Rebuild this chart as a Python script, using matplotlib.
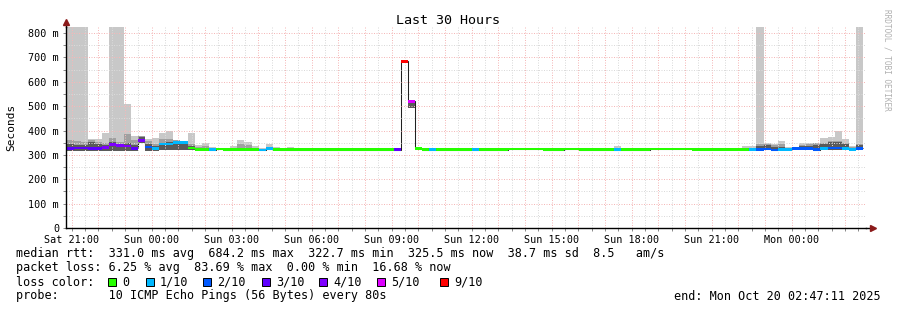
import numpy as np
import matplotlib.pyplot as plt
from matplotlib.patches import Rectangle
from matplotlib.ticker import MultipleLocator, FuncFormatter

plt.rcParams['font.family'] = ['DejaVu Sans Mono']

# time axis: hours counted from Sat 00:00, one bin = 16 minutes
t_start = 20.5458
step = 16 / 60
x_min, x_max = 20.786, 50.786   # Sat 20:47:11 .. Mon 02:47:11

# median rtt per bin (ms)
med = [327, 326, 329, 329, 327, 327, 331, 343, 338, 336,
       327, 359, 332, 326, 344, 344, 351, 351, 328, 323,
       323, 322, 324, 322, 323, 323, 323, 323, 321, 326,
       323, 322, 322, 322, 322, 322, 322, 322, 322, 322,
       322, 322, 322, 322, 322, 322, 322, 322, 684, 520,
       327, 322, 322, 322, 322, 322, 322, 322, 322, 322,
       322, 322, 322, 325, 325, 325, 325, 325, 322, 322,
       322, 325, 325, 322, 322, 322, 322, 322, 322, 322,
       322, 322, 322, 325, 325, 325, 325, 325, 325, 323,
       323, 323, 323, 323, 323, 323, 323, 323, 323, 324,
       321, 323, 323, 327, 327, 327, 322, 327, 329, 329,
       327, 323, 327]

# loss class per bin (lost pings out of 10)
loss = [3, 3, 3, 3, 3, 3, 4, 4, 4, 4,
        3, 4, 2, 1, 1, 1, 1, 1, 0, 0,
        0, 1, 0, 0, 0, 0, 0, 0, 1, 1,
        0, 0, 0, 0, 0, 0, 0, 0, 0, 0,
        0, 0, 0, 0, 0, 0, 0, 3, 9, 5,
        0, 0, 1, 0, 0, 0, 0, 0, 1, 0,
        0, 0, 0, 0, 0, 0, 0, 0, 0, 0,
        0, 0, 0, 0, 0, 0, 0, 0, 1, 0,
        0, 0, 0, 0, 0, 0, 0, 0, 0, 0,
        0, 0, 0, 0, 0, 0, 0, 1, 2, 2,
        2, 1, 1, 2, 2, 2, 2, 1, 2, 2,
        1, 1, 2]

# smoke: outer (light), middle and inner (dark) ping ranges
hi = [1000, 1000, 1000, 1000, 366, 366, 391, 1000, 1000, 509,
      378, 378, 364, 368, 388, 398, 362, 358, 388, 342,
      347, 331, 330, 328, 336, 361, 353, 336, 328, 345,
      331, 328, 331, 328, 327, 327, 325, 328, 324, 324,
      324, 324, 324, 324, 324, 324, 324, 324, 690, 525,
      328, 324, 324, 324, 324, 324, 324, 328, 324, 328,
      328, 324, 328, 327, 327, 327, 327, 327, 328, 328,
      324, 327, 327, 324, 328, 324, 324, 328, 338, 324,
      324, 324, 328, 327, 327, 329, 327, 327, 327, 324,
      329, 328, 324, 328, 324, 324, 338, 336, 1000, 347,
      343, 358, 334, 334, 347, 350, 350, 368, 375, 399,
      364, 336, 1000]

mid = [360, 362, 358, 355, 360, 354, 350, 368, 352, 386,
       360, 376, 358, 345, 364, 364, 360, 356, 345, 334,
       338, 325, 326, 325, 328, 345, 340, 328, 325, 330,
       326, 325, 325, 325, 325, 325, 325, 325, 325, 325,
       325, 325, 325, 325, 325, 325, 325, 325, 688, 525,
       327, 325, 325, 325, 325, 325, 325, 325, 325, 325,
       325, 325, 325, 327, 327, 327, 327, 327, 325, 325,
       325, 327, 327, 325, 325, 325, 325, 325, 330, 325,
       325, 325, 325, 327, 327, 327, 327, 327, 327, 325,
       325, 325, 325, 325, 325, 325, 330, 330, 345, 345,
       340, 345, 330, 334, 340, 345, 347, 350, 358, 358,
       350, 334, 345]

dark = [345, 345, 342, 342, 354, 345, 342, 355, 345, 350,
        340, 374, 345, 335, 350, 352, 356, 353, 335, 323,
        323, 322, 323, 322, 323, 323, 323, 323, 321, 325,
        323, 322, 322, 322, 322, 322, 322, 322, 322, 322,
        322, 322, 322, 322, 322, 322, 322, 322, 688, 525,
        325, 322, 322, 322, 322, 322, 322, 322, 322, 322,
        322, 322, 322, 324, 324, 324, 324, 324, 322, 322,
        322, 324, 324, 322, 322, 322, 322, 322, 322, 322,
        322, 322, 322, 324, 324, 324, 324, 324, 324, 322,
        322, 322, 322, 322, 322, 322, 323, 323, 338, 340,
        334, 334, 328, 332, 336, 338, 340, 343, 351, 354,
        343, 330, 340]

lo = [318, 318, 318, 318, 318, 318, 318, 318, 318, 318,
      318, 350, 318, 318, 320, 320, 320, 320, 320, 320,
      320, 320, 320, 320, 320, 320, 320, 320, 320, 320,
      320, 320, 320, 320, 320, 320, 320, 320, 320, 320,
      320, 320, 320, 320, 320, 320, 320, 320, 680, 491,
      320, 320, 320, 320, 320, 320, 320, 320, 320, 320,
      320, 320, 320, 321, 321, 321, 321, 321, 320, 320,
      320, 321, 321, 320, 320, 320, 320, 320, 320, 320,
      320, 320, 320, 321, 321, 321, 321, 321, 321, 320,
      320, 320, 320, 320, 320, 320, 320, 320, 320, 320,
      320, 320, 320, 320, 320, 320, 320, 320, 320, 320,
      320, 320, 320]

loss_colors = {0: '#26ff00', 1: '#00b8ff', 2: '#0059ff', 3: '#5e00ff',
               4: '#7e00ff', 5: '#dd00ff', 9: '#ff0000'}
legend_classes = [0, 1, 2, 3, 4, 5, 9]
legend_names = ['0', '1/10', '2/10', '3/10', '4/10', '5/10', '9/10']

tick_hours = [21, 24, 27, 30, 33, 36, 39, 42, 45, 48]
tick_labels = ['Sat 21:00', 'Sun 00:00', 'Sun 03:00', 'Sun 06:00', 'Sun 09:00',
               'Sun 12:00', 'Sun 15:00', 'Sun 18:00', 'Sun 21:00', 'Mon 00:00']

W, H = 897, 310
fig = plt.figure(figsize=(W / 100, H / 100), dpi=100)
fig.patch.set_facecolor('white')
ax = fig.add_axes([66 / W, 1 - 228 / H, 800 / W, 201 / H])

med = np.array(med)
lo = np.array(lo)
t = t_start + step * np.arange(len(med))
edges = np.append(t, t[-1] + step)

# median line (under the smoke, only the jumps show)
ax.stairs(med, edges, baseline=None, color='#202020', lw=0.75, zorder=0.9)

# smoke
ax.bar(t, np.array(hi) - lo, bottom=lo, width=step, align='edge',
       color='#c8c8c8', linewidth=0, antialiased=False, zorder=1)
ax.bar(t, np.array(mid) - lo, bottom=lo, width=step, align='edge',
       color='#a0a0a0', linewidth=0, antialiased=False, zorder=1)
ax.bar(t, np.array(dark) - lo, bottom=lo, width=step, align='edge',
       color='#5a5a5a', linewidth=0, antialiased=False, zorder=1)

# loss coloured band on the median
ax.bar(t, 10, bottom=med - 5, width=step, align='edge',
       color=[loss_colors[l] for l in loss], linewidth=0,
       antialiased=False, zorder=3)

ax.set_xlim(x_min, x_max)
ax.set_ylim(0, 825)

ax.xaxis.set_major_locator(MultipleLocator(1))
ax.xaxis.set_minor_locator(MultipleLocator(0.5))
lab = dict(zip(tick_hours, tick_labels))
ax.xaxis.set_major_formatter(FuncFormatter(lambda v, p: lab.get(int(round(v)), '')))
ax.yaxis.set_major_locator(MultipleLocator(100))
ax.yaxis.set_minor_locator(MultipleLocator(50))
ax.yaxis.set_major_formatter(FuncFormatter(lambda v, p: '0' if v == 0 else f'{int(v)} m'))

ax.grid(which='major', color='#f5b8b8', linestyle=(0, (1, 1.5)), linewidth=0.72)
ax.grid(which='minor', color='#dadada', linestyle=(0, (1, 1.5)), linewidth=0.72)
ax.tick_params(which='both', length=2, width=0.7, color='#888888', labelsize=7.3, pad=3)

for s in ['top', 'right']:
    ax.spines[s].set_visible(False)
for s in ['left', 'bottom']:
    ax.spines[s].set_linewidth(1)
    ax.spines[s].set_zorder(5)

# axis arrows
ax.plot([1, 1.009], [0, 0], color='black', lw=1, transform=ax.transAxes, clip_on=False)
ax.plot([0, 0], [1, 1.02], color='black', lw=1, transform=ax.transAxes, clip_on=False)
ax.plot([1.009], [0], marker='>', ms=4, color='#8b1a1a', transform=ax.transAxes, clip_on=False)
ax.plot([0], [1.025], marker='^', ms=4, color='#8b1a1a', transform=ax.transAxes, clip_on=False)

def fx(x):
    return x / W

def fy(y):
    return 1 - y / H

fig.text(fx(448), fy(20), 'Last 30 Hours', ha='center', va='center', fontsize=9.6)
fig.text(fx(11), fy(127), 'Seconds', rotation=90, ha='center', va='center', fontsize=8)
fig.text(fx(887), fy(60), 'RRDTOOL / TOBI OETIKER', rotation=270, ha='center', va='center',
         fontsize=5.6, color='#b0b0b0')

fs = 8.5
fig.text(fx(16), fy(254), 'median rtt:  331.0 ms avg  684.2 ms max  322.7 ms min  325.5 ms now  38.7 ms sd  8.5   am/s',
         ha='left', va='center', fontsize=fs)
fig.text(fx(16), fy(268), 'packet loss: 6.25 % avg  83.69 % max  0.00 % min  16.68 % now',
         ha='left', va='center', fontsize=fs)
fig.text(fx(16), fy(282), 'loss color:', ha='left', va='center', fontsize=fs)
box_x = [108, 146, 203, 262, 319, 377, 440]
for bx, c, name in zip(box_x, legend_classes, legend_names):
    fig.patches.append(Rectangle((fx(bx), fy(286)), 8 / W, 8 / H, transform=fig.transFigure,
                                 facecolor=loss_colors[c], edgecolor='black', linewidth=0.7))
    fig.text(fx(bx + 14), fy(282), name, ha='left', va='center', fontsize=fs)
fig.text(fx(16), fy(296), 'probe:       10 ICMP Echo Pings (56 Bytes) every 80s',
         ha='left', va='center', fontsize=fs)
fig.text(fx(881), fy(296), 'end: Mon Oct 20 02:47:11 2025', ha='right', va='center', fontsize=fs)

fig.savefig('out.png', dpi=100)
